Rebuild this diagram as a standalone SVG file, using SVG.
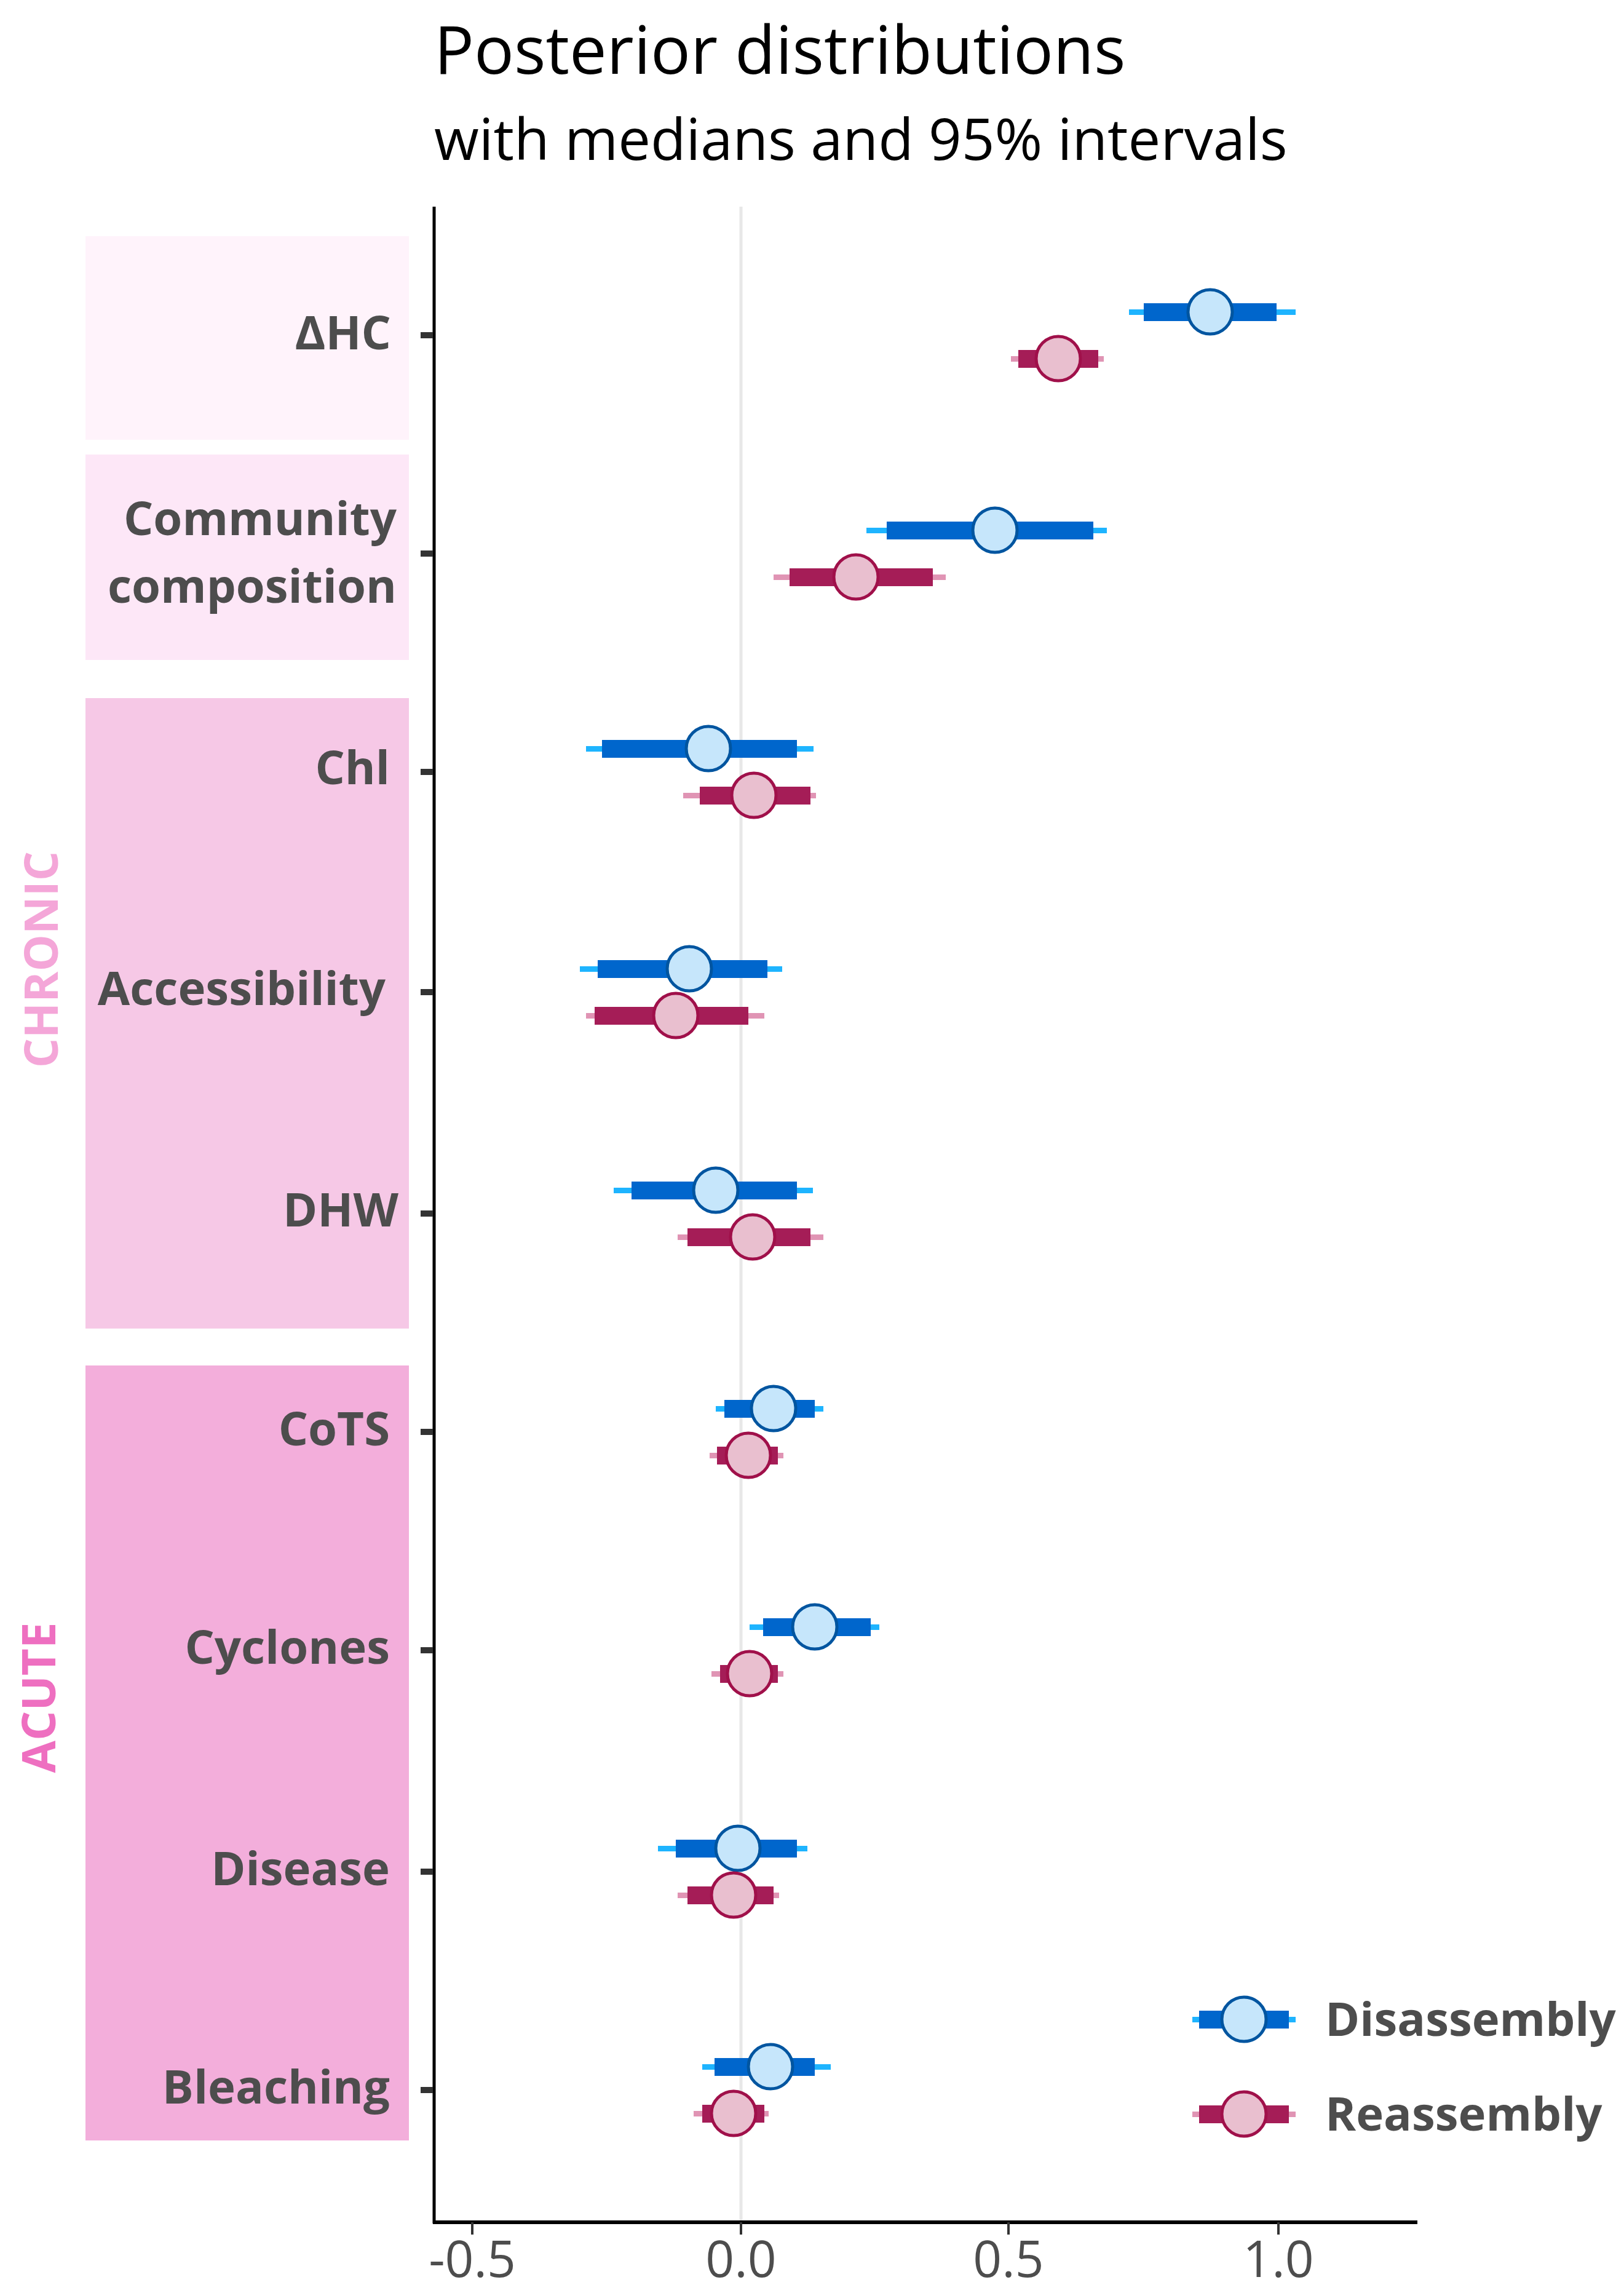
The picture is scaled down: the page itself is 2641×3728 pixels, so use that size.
<svg xmlns="http://www.w3.org/2000/svg" width="2641" height="3728" viewBox="0 0 2641 3728">
<style>
.lab{font-family:"Open Sans","Noto Sans",sans-serif;font-weight:bold;font-size:76px;fill:#4d4d4d;text-anchor:end}
.tk{font-family:"Open Sans","Noto Sans",sans-serif;font-size:82px;fill:#4d4d4d;text-anchor:middle}
.bt{fill:#1eb4ff}.bk{fill:#0066cc}.bc{fill:#c6e6fb;stroke:#0055a0;stroke-width:5}
.rt{fill:#e094b4}.rk{fill:#a51d57}.rc{fill:#e9bfcf;stroke:#a0104a;stroke-width:5}
.leg{font-family:"Open Sans","Noto Sans",sans-serif;font-weight:bold;font-size:76px;fill:#4d4d4d}
</style>
<rect width="2641" height="3728" fill="#fff"/>
<g id="title">
<text x="706" y="120" font-family="Open Sans,Noto Sans,sans-serif" font-size="108" fill="#000">Posterior distributions</text>
<text x="706" y="260" font-family="Open Sans,Noto Sans,sans-serif" font-size="94" fill="#000">with medians and 95% intervals</text>
</g>
<g id="bands">
<rect x="139" y="384" width="526" height="331" fill="#fff3fb"/>
<rect x="139" y="739" width="526" height="334" fill="#fde7f7"/>
<rect x="139" y="1135" width="526" height="1025" fill="#f6c8e6"/>
<rect x="139" y="2220" width="526" height="1260" fill="#f3aedb"/>
<text transform="translate(94,1560) rotate(-90)" text-anchor="middle" font-family="Open Sans,Noto Sans,sans-serif" font-weight="bold" font-size="76" fill="#f4a6d8">CHRONIC</text>
<text transform="translate(90,2760) rotate(-90)" text-anchor="middle" font-family="Open Sans,Noto Sans,sans-serif" font-weight="bold" font-size="76" fill="#ee6fc0">ACUTE</text>
</g>
<g id="axes">
<line x1="1205" y1="336" x2="1205" y2="3612" stroke="#e8e8e8" stroke-width="5"/>
<line x1="706" y1="336" x2="706" y2="3615" stroke="#000" stroke-width="5"/>
<line x1="704" y1="3613" x2="2305" y2="3613" stroke="#000" stroke-width="6"/>
<g stroke="#333" stroke-width="4">
<line x1="768" y1="3613" x2="768" y2="3633"/><line x1="1205" y1="3613" x2="1205" y2="3633"/><line x1="1640" y1="3613" x2="1640" y2="3633"/><line x1="2079" y1="3613" x2="2079" y2="3633"/>
</g>
<text class="tk" x="768" y="3702">-0.5</text><text class="tk" x="1205" y="3702">0.0</text><text class="tk" x="1640" y="3702">0.5</text><text class="tk" x="2079" y="3702">1.0</text>
<g stroke="#333" stroke-width="10">
<line x1="684" y1="545" x2="704" y2="545"/><line x1="684" y1="900" x2="704" y2="900"/><line x1="684" y1="1255" x2="704" y2="1255"/><line x1="684" y1="1613" x2="704" y2="1613"/><line x1="684" y1="1973" x2="704" y2="1973"/><line x1="684" y1="2328" x2="704" y2="2328"/><line x1="684" y1="2683" x2="704" y2="2683"/><line x1="684" y1="3043" x2="704" y2="3043"/><line x1="684" y1="3398" x2="704" y2="3398"/>
</g>
<text class="lab" x="636" y="568">ΔHC</text>
<text class="lab" x="645" y="870">Community</text>
<text class="lab" x="645" y="980">composition</text>
<text class="lab" x="634" y="1275">Chl</text>
<text class="lab" x="627" y="1634">Accessibility</text>
<text class="lab" x="648" y="1994">DHW</text>
<text class="lab" x="634" y="2350">CoTS</text>
<text class="lab" x="634" y="2705">Cyclones</text>
<text class="lab" x="634" y="3065">Disease</text>
<text class="lab" x="634" y="3420">Bleaching</text>
</g>
<g id="series">
<rect class="bt" x="1836" y="503" width="271" height="9"/><rect class="bk" x="1860" y="493" width="216" height="29"/><circle class="bc" cx="1968" cy="507" r="36"/>
<rect class="rt" x="1644" y="579" width="151" height="9"/><rect class="rk" x="1656" y="569" width="130" height="29"/><circle class="rc" cx="1721" cy="583" r="36"/>
<rect class="bt" x="1409" y="858" width="391" height="9"/><rect class="bk" x="1442" y="848" width="336" height="29"/><circle class="bc" cx="1618" cy="862" r="36"/>
<rect class="rt" x="1258" y="934" width="280" height="9"/><rect class="rk" x="1284" y="924" width="233" height="29"/><circle class="rc" cx="1392" cy="938" r="36"/>
<rect class="bt" x="953" y="1213" width="370" height="9"/><rect class="bk" x="979" y="1203" width="317" height="29"/><circle class="bc" cx="1152" cy="1217" r="36"/>
<rect class="rt" x="1111" y="1289" width="216" height="9"/><rect class="rk" x="1138" y="1279" width="180" height="29"/><circle class="rc" cx="1226" cy="1293" r="36"/>
<rect class="bt" x="943" y="1571" width="329" height="9"/><rect class="bk" x="972" y="1561" width="276" height="29"/><circle class="bc" cx="1121" cy="1575" r="36"/>
<rect class="rt" x="953" y="1647" width="290" height="9"/><rect class="rk" x="967" y="1637" width="250" height="29"/><circle class="rc" cx="1099" cy="1651" r="36"/>
<rect class="bt" x="998" y="1931" width="324" height="9"/><rect class="bk" x="1027" y="1921" width="269" height="29"/><circle class="bc" cx="1164" cy="1935" r="36"/>
<rect class="rt" x="1102" y="2007" width="237" height="9"/><rect class="rk" x="1118" y="1997" width="200" height="29"/><circle class="rc" cx="1224" cy="2011" r="36"/>
<rect class="bt" x="1164" y="2286" width="175" height="9"/><rect class="bk" x="1178" y="2276" width="147" height="29"/><circle class="bc" cx="1258" cy="2290" r="36"/>
<rect class="rt" x="1154" y="2362" width="120" height="9"/><rect class="rk" x="1166" y="2352" width="99" height="29"/><circle class="rc" cx="1217" cy="2366" r="36"/>
<rect class="bt" x="1219" y="2641" width="211" height="9"/><rect class="bk" x="1241" y="2631" width="175" height="29"/><circle class="bc" cx="1325" cy="2645" r="36"/>
<rect class="rt" x="1157" y="2717" width="117" height="9"/><rect class="rk" x="1171" y="2707" width="94" height="29"/><circle class="rc" cx="1219" cy="2721" r="36"/>
<rect class="bt" x="1070" y="3001" width="243" height="9"/><rect class="bk" x="1099" y="2991" width="197" height="29"/><circle class="bc" cx="1200" cy="3005" r="36"/>
<rect class="rt" x="1102" y="3077" width="165" height="9"/><rect class="rk" x="1118" y="3067" width="140" height="29"/><circle class="rc" cx="1193" cy="3081" r="36"/>
<rect class="bt" x="1142" y="3356" width="209" height="9"/><rect class="bk" x="1162" y="3346" width="163" height="29"/><circle class="bc" cx="1253" cy="3360" r="36"/>
<rect class="rt" x="1128" y="3432" width="122" height="9"/><rect class="rk" x="1142" y="3422" width="101" height="29"/><circle class="rc" cx="1193" cy="3436" r="36"/>
</g>
<g id="legend">
<rect class="bt" x="1939" y="3279" width="168" height="9"/><rect class="bk" x="1950" y="3269" width="146" height="29"/><circle class="bc" cx="2023" cy="3283" r="36"/>
<text class="leg" x="2155" y="3310">Disassembly</text>
<rect class="rt" x="1939" y="3433" width="168" height="9"/><rect class="rk" x="1950" y="3423" width="146" height="29"/><circle class="rc" cx="2023" cy="3437" r="36"/>
<text class="leg" x="2155" y="3464">Reassembly</text>
</g>
</svg>
